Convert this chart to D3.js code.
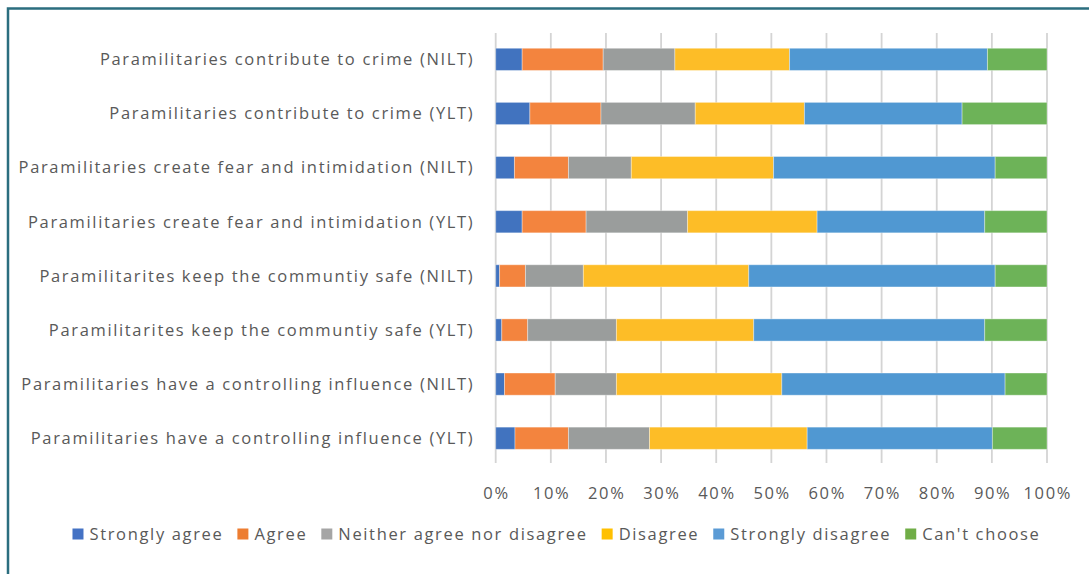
<!DOCTYPE html>
<html><head><meta charset="utf-8">
<script src="https://cdn.jsdelivr.net/npm/d3@7"></script>
<style>body{margin:0;background:#fff;} text{font-family:"Open Sans",sans-serif;fill:#595959;}</style>
</head><body>
<svg id="c" width="1089" height="574"></svg>
<script>
const categories = [
  "Paramilitaries contribute to crime (NILT)",
  "Paramilitaries contribute to crime (YLT)",
  "Paramilitaries create fear and intimidation (NILT)",
  "Paramilitaries create fear and intimidation (YLT)",
  "Paramilitarites keep the communtiy safe (NILT)",
  "Paramilitarites keep the communtiy safe (YLT)",
  "Paramilitaries have a controlling influence (NILT)",
  "Paramilitaries have a controlling influence (YLT)"
];
const seriesNames = ["Strongly agree","Agree","Neither agree nor disagree","Disagree","Strongly disagree","Can't choose"];
const stronglyAgree = [4.8, 6.2, 3.4, 4.8, 0.7, 1.1, 1.6, 3.5];
const agree         = [14.7,12.9, 9.8,11.6, 4.7, 4.7, 9.2, 9.7];
const neither       = [13.0,17.1,11.4,18.4,10.5,16.1,11.1,14.7];
const disagree      = [20.8,19.8,25.8,23.5,30.0,24.9,30.0,28.6];
const stronglyDis   = [35.9,28.6,40.2,30.4,44.7,41.9,40.5,33.6];
const cantChoose    = [10.8,15.4, 9.4,11.3, 9.4,11.3, 7.6, 9.9];
const tickValues = [0,0.1,0.2,0.3,0.4,0.5,0.6,0.7,0.8,0.9,1.0];
const colors = ["#4472c4","#ed7d31","#a5a5a5","#ffc000","#5b9bd5","#70ad47"];
const barColors = ["#4173bf","#f3843e","#9a9d9c","#fdbd27","#5098d2","#6db358"];

const FS = "16.5px", LS = "1.65px";
const svg = d3.select("#c");
// frame
svg.append("rect").attr("x",8).attr("y",8.5).attr("width",1100).attr("height",600)
  .attr("fill","none").attr("stroke","#2b6e7f").attr("stroke-width",2.5);

const allSeries = [stronglyAgree, agree, neither, disagree, stronglyDis, cantChoose];
const rows = categories.map((c,i)=>{
  const o = {cat:c};
  const tot = d3.sum(allSeries, s=>s[i]);
  seriesNames.forEach((n,j)=>o[n]=allSeries[j][i]/tot);
  return o;
});
const stack = d3.stack().keys(seriesNames)(rows);

const x = d3.scaleLinear().domain([0,1]).range([495.7,1047]);
const y = d3.scaleBand().domain(categories).range([32.3,465.3]).paddingInner(0.59).paddingOuter(0.295);

// gridlines
svg.append("g").selectAll("line").data(tickValues).join("line")
  .attr("x1",d=>x(d)).attr("x2",d=>x(d)).attr("y1",33).attr("y2",463)
  .attr("stroke","#d4d4d4").attr("stroke-width",1.8);

// bars
svg.append("g").selectAll("g").data(stack).join("g")
  .attr("fill",(d,i)=>barColors[i])
  .selectAll("rect").data(d=>d).join("rect")
  .attr("x",d=>x(d[0])).attr("width",d=>x(d[1])-x(d[0]))
  .attr("y",d=>y(d.data.cat)).attr("height",y.bandwidth())
  .attr("stroke","#ffffff").attr("stroke-opacity",0.35).attr("stroke-width",1);

// category labels
svg.append("g").selectAll("text").data(categories).join("text")
  .attr("x",474.3).attr("y",d=>y(d)+y.bandwidth()/2).attr("dy","0.35em")
  .attr("text-anchor","end").style("font-size",FS).style("letter-spacing",LS).text(d=>d);

// x axis tick labels
const fmt = d3.format(".0%");
svg.append("g").selectAll("text").data(tickValues).join("text")
  .attr("x",d=>x(d)+0.8).attr("y",493).attr("dy","0.35em").attr("text-anchor","middle")
  .style("font-size",FS).style("letter-spacing",LS).text(d=>fmt(d));

// legend
const lg = svg.append("g");
const items = lg.selectAll("g").data(seriesNames).join("g");
items.append("rect").attr("width",11).attr("height",11).attr("y",528.5).attr("fill",(d,i)=>colors[i]);
items.append("text").attr("x",17).attr("y",534).attr("dy","0.35em")
  .style("font-size",FS).style("letter-spacing",LS).text(d=>d);
let widths = [];
items.each(function(){ widths.push(this.querySelector("text").getComputedTextLength()+17); });
const gap = 14;
const total = d3.sum(widths)+gap*(widths.length-1);
let cx = 556.5 - total/2;
items.attr("transform",(d,i)=>{const t=`translate(${cx},0)`; cx += widths[i]+gap; return t;});
</script>
</body></html>
